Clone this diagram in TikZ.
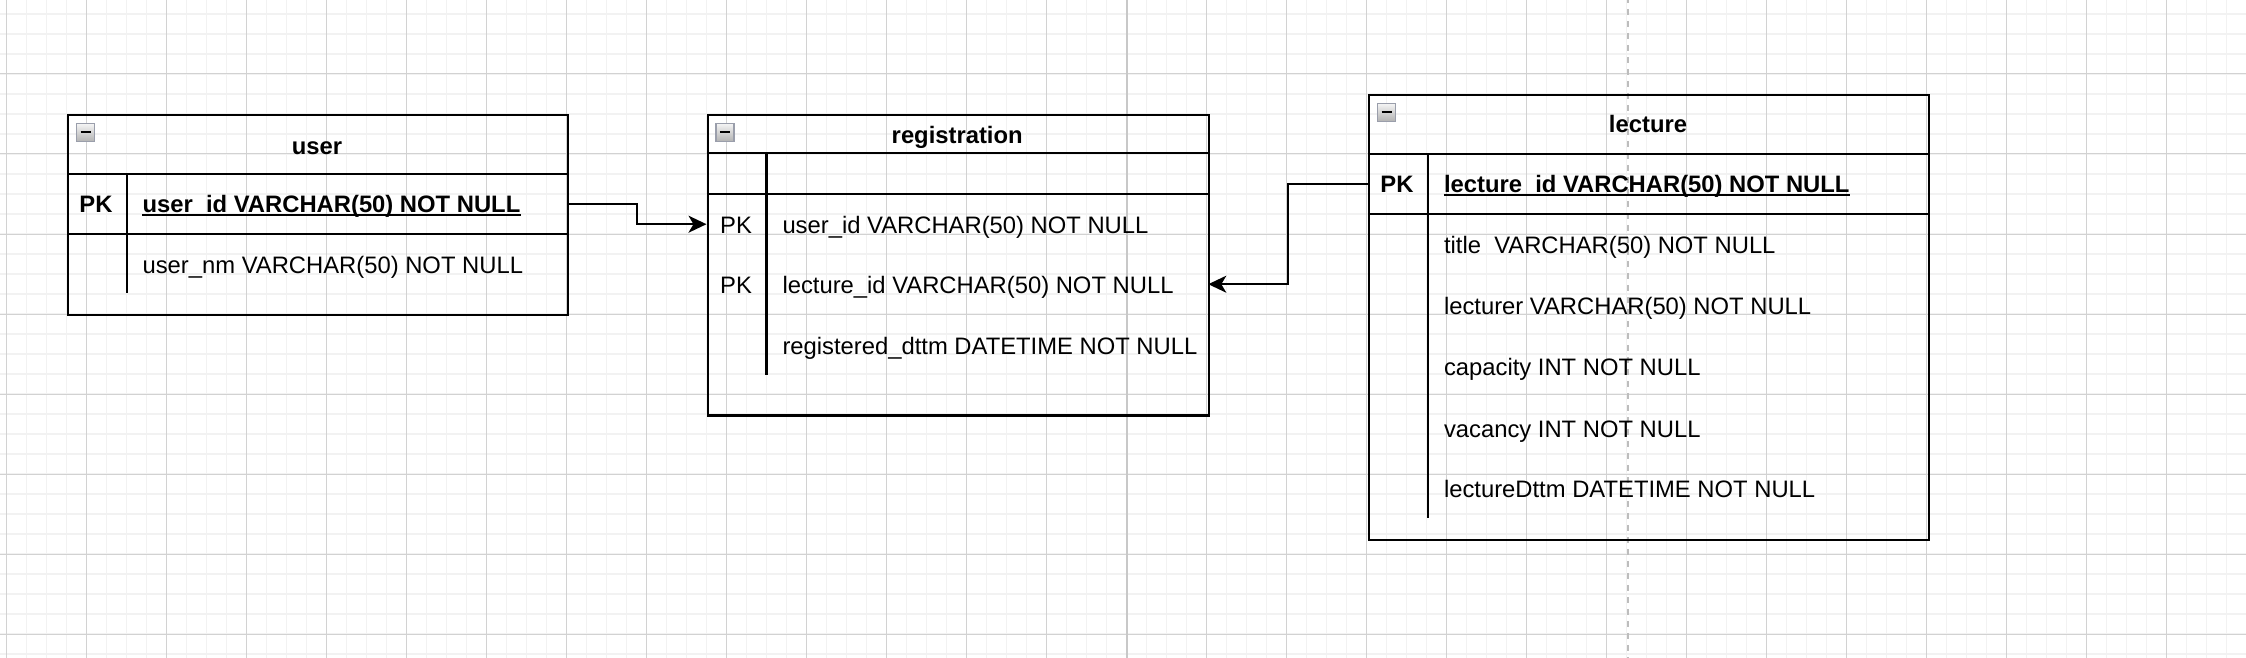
\documentclass[tikz,border=0pt]{standalone}
\usepackage{fontspec}
\setmainfont{Liberation Sans}
\usetikzlibrary{arrows.meta}
\definecolor{gridminor}{HTML}{F2F2F2}
\definecolor{gridmajor}{HTML}{D2D2D2}
\definecolor{pageline}{HTML}{C8C8C8}
\definecolor{dashline}{HTML}{BDBDBD}
\definecolor{iconborder}{HTML}{9A9EAB}
\newcommand{\tblicon}[2]{%
  \shade[top color=white!96!black, bottom color=black!30, draw=iconborder, line width=1.5pt] (#1,#2) rectangle ++(18,18);
  \draw[line width=2pt, black] (#1+4,#2+9) -- ++(10,0);
}
\begin{document}
\begin{tikzpicture}[x=1pt,y=-1pt,
  gmin/.style={draw=gridminor, line width=1.6pt},
  gmaj/.style={draw=gridmajor, line width=1pt},
  tbl/.style={draw=black, line width=2.2pt, rectangle, inner sep=0pt, anchor=north west},
  rowbox/.style={draw=none, rectangle, inner sep=0pt, anchor=north west},
  bd/.style={draw=black, line width=2.2pt},
  txt/.style={inner sep=0pt, anchor=base west, font=\fontsize{23.8}{28}\selectfont},
  btxt/.style={txt, font=\fontsize{23.8}{28}\selectfont\bfseries},
  ttl/.style={btxt, anchor=base},
  uline/.style={draw=black, line width=1.8pt},
  conn/.style={draw=black, line width=2pt, -{Stealth[length=18pt,width=17pt,inset=5pt]}}
]
\useasboundingbox (0,0) rectangle (2246,658);
\clip (0,0) rectangle (2246,658);
% background grid
\foreach \i in {0,...,112} \draw[gmin] ({6.5+20*\i},0) -- ({6.5+20*\i},658);
\foreach \j in {0,...,32} \draw[gmin] (0,{14+20*\j}) -- (2246,{14+20*\j});
\foreach \i in {0,...,28} \draw[gmaj] ({6.5+80*\i},0) -- ({6.5+80*\i},658);
\foreach \j in {0,...,8} \draw[gmaj] (0,{-6+80*\j}) -- (2246,{-6+80*\j});
\draw[draw=pageline, line width=2pt] (1126.7,0) -- (1126.7,658);
\draw[draw=dashline, line width=2pt, dash pattern=on 6pt off 6pt] (1627.7,-2.7) -- (1627.7,670);

% ---------- user ----------
\node[tbl, minimum width=499.8pt, minimum height=200pt] (user) at (67,113.7) {};
\tblicon{76.7}{123.5}
\draw[bd] (67,173.7) -- (566.8,173.7);
\draw[bd] (67,233.7) -- (566.8,233.7);
\draw[bd] (126.7,173.7) -- (126.7,293.3);
\node[rowbox, minimum width=499.8pt, minimum height=60pt] (userpk) at (67,173.7) {};
\node[ttl] (usertitle) at (316.9,154.5) {user};
\node[btxt] (userpklbl) at (79.2,212.5) {PK};
\node[btxt] (userid) at (142.4,212.5) {user\_id VARCHAR(50) NOT NULL};
\draw[uline] ([yshift=-2.3pt]userid.base west) -- ([yshift=-2.3pt]userid.base east);
\node[txt] (usernm) at (142.4,273) {user\_nm VARCHAR(50) NOT NULL};

% ---------- registration ----------
\node[tbl, minimum width=501.4pt, minimum height=300.3pt] (reg) at (706.5,114) {};
\tblicon{715.8}{123.3}
\draw[bd] (706.5,153.3) -- (1207.9,153.3);
\draw[bd] (706.5,194) -- (1207.9,194);
\draw[bd] (766.4,153.3) -- (766.4,375);
\node[rowbox, minimum width=501.4pt, minimum height=60pt] (reguser) at (706.5,194) {};
\node[rowbox, minimum width=501.4pt, minimum height=60pt] (reglec) at (706.5,254) {};
\node[ttl] (regtitle) at (957.2,143.5) {registration};
\node[txt] (regpk1) at (720,233) {PK};
\node[txt] (reguid) at (782.3,233) {user\_id VARCHAR(50) NOT NULL};
\node[txt] (regpk2) at (720,293.5) {PK};
\node[txt] (reglid) at (782.3,293.5) {lecture\_id VARCHAR(50) NOT NULL};
\node[txt] (regdttm) at (782.3,354) {registered\_dttm DATETIME NOT NULL};

% ---------- lecture ----------
\node[tbl, minimum width=559.9pt, minimum height=445pt] (lec) at (1368,94) {};
\tblicon{1377.6}{103.3}
\draw[bd] (1368,153.7) -- (1927.9,153.7);
\draw[bd] (1368,214) -- (1927.9,214);
\draw[bd] (1427.7,153.7) -- (1427.7,518.3);
\node[rowbox, minimum width=559.9pt, minimum height=60.3pt] (lecpk) at (1368,153.7) {};
\node[ttl] (lectitle) at (1648,132.5) {lecture};
\node[btxt] (lecpklbl) at (1380.2,193) {PK};
\node[btxt] (lecid) at (1443.8,193) {lecture\_id VARCHAR(50) NOT NULL};
\draw[uline] ([yshift=-2.3pt]lecid.base west) -- ([yshift=-2.3pt]lecid.base east);
\node[txt] (lectitlef) at (1443.8,253.5) {title\ \ VARCHAR(50) NOT NULL};
\node[txt] (lecturer) at (1443.8,314) {lecturer VARCHAR(50) NOT NULL};
\node[txt] (capacity) at (1443.8,375.5) {capacity INT NOT NULL};
\node[txt] (vacancy) at (1443.8,437) {vacancy INT NOT NULL};
\node[txt] (lecdttm) at (1443.8,497.5) {lectureDttm DATETIME NOT NULL};

% ---------- connectors ----------
\draw[conn] (userpk.east) -- ++(70,0) |- (reguser.west);
\draw[conn] (lecpk.west) -- ++(-80,0) |- (reglec.east);
\end{tikzpicture}
\end{document}
